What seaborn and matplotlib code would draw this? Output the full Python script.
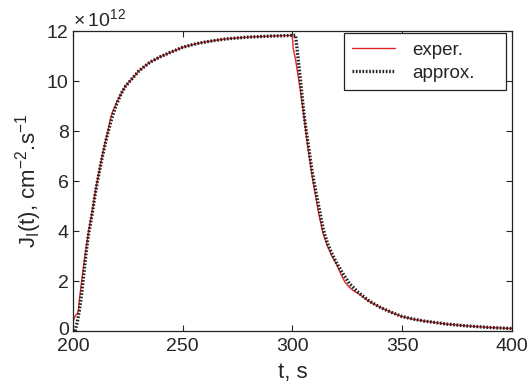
import numpy as np
import pandas as pd
import matplotlib
matplotlib.use("Agg")
import matplotlib.pyplot as plt
import matplotlib.transforms as mtransforms
from matplotlib.ticker import FuncFormatter
import seaborn as sns

# values (J in units of 1e12 cm^-2 s^-1)
t_exper = [200, 201, 202, 202.5, 203, 204, 205, 206, 207, 208, 209, 210, 211, 212, 213,
           214, 215, 216, 217, 218, 220, 222, 224, 227, 230, 235, 240, 245, 250, 255,
           260, 265, 270, 280, 290, 299, 300, 300.4, 301.4, 303, 305, 306, 307, 308,
           309, 310, 312, 314, 316, 318, 320, 322, 324, 326, 328, 330, 335, 340, 345,
           350, 355, 360, 370, 380, 390, 400]
j_exper = [0.35, 0.6, 0.7, 0.8, 1.3, 2.0, 2.7, 3.3, 3.9, 4.4, 4.9, 5.45, 5.95, 6.4, 6.85,
           7.25, 7.65, 8.0, 8.45, 8.75, 9.15, 9.5, 9.8, 10.1, 10.4, 10.75, 10.98, 11.17,
           11.35, 11.47, 11.56, 11.63, 11.69, 11.76, 11.8, 11.83, 11.83, 11.3, 10.9,
           10.0, 8.8, 8.1, 7.4, 6.8, 6.2, 5.7, 4.7, 3.9, 3.4, 3.0, 2.7, 2.3, 1.95, 1.75,
           1.6, 1.5, 1.18, 0.95, 0.75, 0.58, 0.47, 0.4, 0.28, 0.2, 0.14, 0.1]

t_approx = [201, 202, 203, 204, 205, 206, 207, 208, 209, 210, 211, 212, 213, 214, 215,
            216, 218, 220, 222, 224, 227, 230, 235, 240, 245, 250, 255, 260, 265, 270,
            280, 290, 301.5, 302, 303, 304, 305, 306, 307, 308, 309, 310, 312, 314, 316,
            318, 320, 323, 326, 330, 335, 340, 345, 350, 355, 360, 370, 380, 390, 400]
j_approx = [0.0, 0.35, 0.85, 1.5, 2.3, 3.1, 3.8, 4.3, 4.8, 5.4, 5.9, 6.35, 6.8, 7.2, 7.6,
            7.95, 8.6, 9.1, 9.5, 9.8, 10.1, 10.4, 10.75, 10.98, 11.17, 11.35, 11.47, 11.56,
            11.63, 11.69, 11.76, 11.8, 11.83, 11.4, 10.6, 9.8, 8.9, 8.2, 7.6, 7.0, 6.4,
            5.9, 5.0, 4.1, 3.5, 3.1, 2.75, 2.3, 1.9, 1.55, 1.2, 0.95, 0.75, 0.58, 0.48,
            0.4, 0.28, 0.2, 0.14, 0.1]

df_exper = pd.DataFrame({"t": t_exper, "J": np.array(j_exper) * 1e12})
df_approx = pd.DataFrame({"t": t_approx, "J": np.array(j_approx) * 1e12})

sns.set_style("ticks")
plt.rcParams["font.family"] = ["Liberation Sans", "DejaVu Sans"]
plt.rcParams["mathtext.fontset"] = "custom"
plt.rcParams["mathtext.rm"] = "Liberation Sans"

fig = plt.figure(figsize=(5.32, 3.84), dpi=100)
ax = fig.add_axes([0.137, 0.138, 0.825, 0.781])

sns.lineplot(data=df_exper, x="t", y="J", color="#e3242b", linewidth=1.0,
             label="exper.", ax=ax)
sns.lineplot(data=df_approx, x="t", y="J", color="#222222", linewidth=2.4,
             linestyle=(0, (0.5, 0.5)), label="approx.", ax=ax)

ax.set_xlim(200, 400)
ax.set_ylim(0, 12e12)
ax.set_xticks([200, 250, 300, 350, 400])
ax.set_yticks(np.arange(0, 13e12, 2e12))
ax.yaxis.set_major_formatter(FuncFormatter(lambda v, p: f"{v / 1e12:g}"))
ax.text(0.0, 1.004, r"$\times\,\mathregular{10^{12}}$", transform=ax.transAxes,
        fontsize=14, ha="left", va="bottom")

ax.tick_params(direction="in", top=True, right=True, labelsize=14, length=4,
               width=0.8)
ax.tick_params(axis="x", pad=5)
ax.tick_params(axis="y", pad=3)
for s in ax.spines.values():
    s.set_linewidth(0.9)
    s.set_color("#222222")

# lift the "0" label a little so it clears the "200" below it
zero_lbl = ax.yaxis.get_major_ticks()[0].label1
zero_lbl.set_transform(zero_lbl.get_transform()
                       + mtransforms.ScaledTranslation(0, 3 / 100, fig.dpi_scale_trans))

ax.set_xlabel("t, s", fontsize=16, labelpad=5)
ax.set_ylabel(r"J$_\mathregular{I}$(t), cm$^\mathregular{-2}$.s$^\mathregular{-1}$",
              fontsize=16, labelpad=2)

leg = ax.legend(loc="upper right", bbox_to_anchor=(0.617, 0.5, 0.369, 0.493),
                mode="expand", fontsize=13.5, frameon=True, fancybox=False,
                framealpha=1, edgecolor="#222222", borderaxespad=0,
                handlelength=2.3, handletextpad=0.9, borderpad=0.45,
                labelspacing=0.3)
leg.get_frame().set_linewidth(0.9)

fig.savefig("out.png", dpi=100)
